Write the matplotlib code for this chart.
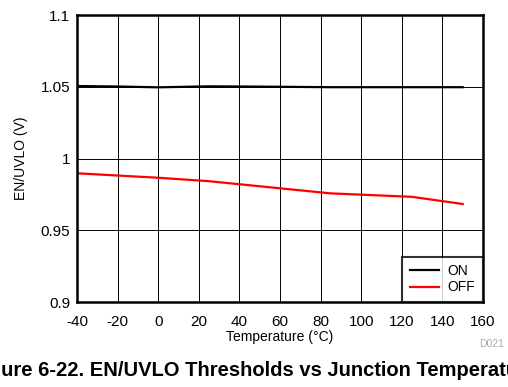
import matplotlib.pyplot as plt

plt.rcParams['font.family'] = ['Liberation Sans', 'DejaVu Sans']
plt.rcParams['axes.unicode_minus'] = False

temp_on = [-40, -20, 0, 25, 50, 85, 125, 150]
v_on = [1.0505, 1.0502, 1.0496, 1.0503, 1.0501, 1.0497, 1.0497, 1.0497]
temp_off = [-40, 0, 25, 85, 125, 150]
v_off = [0.9897, 0.9866, 0.9842, 0.9757, 0.9733, 0.9683]

xticks = list(range(-40, 161, 20))
yticks = [0.9, 0.95, 1.0, 1.05, 1.1]
ytick_labels = ['0.9', '0.95', '1', '1.05', '1.1']

fig = plt.figure(figsize=(5.08, 3.87), dpi=100)
ax = fig.add_axes([0.1516, 0.2196, 0.7992, 0.7416])

ax.plot(temp_on, v_on, color='black', linewidth=1.6, label='ON')
ax.plot(temp_off, v_off, color='#ff0000', linewidth=1.6, label='OFF')

ax.set_xlim(-40, 160)
ax.set_ylim(0.9, 1.1)
ax.set_xticks(xticks)
ax.set_yticks(yticks)
ax.set_yticklabels(ytick_labels)
ax.grid(True, color='black', linewidth=0.7)
ax.tick_params(length=0, labelsize=11)
ax.tick_params(axis='x', pad=9)
ax.tick_params(axis='y', pad=5)
for s in ax.spines.values():
    s.set_linewidth(1.8)

ax.set_xlabel('Temperature (°C)', fontsize=10, labelpad=1)
ax.set_ylabel('EN/UVLO (V)', fontsize=10, labelpad=9)

leg = ax.legend(loc='lower right', fontsize=10, frameon=True, fancybox=False,
                borderaxespad=0, handlelength=2.1, handletextpad=0.6,
                labelspacing=0.15, borderpad=0.55)
leg.get_frame().set_edgecolor('black')
leg.get_frame().set_linewidth(1.5)

fig.text(0.992, 0.1034, 'D021', fontsize=7.5, color='#aaaaaa', ha='right', va='baseline')
fig.text(0.5, 0.0284, 'Figure 6-22. EN/UVLO Thresholds vs Junction Temperature',
         fontsize=14.5, fontweight='bold', ha='center', va='baseline')

fig.savefig('out.png', dpi=100)
